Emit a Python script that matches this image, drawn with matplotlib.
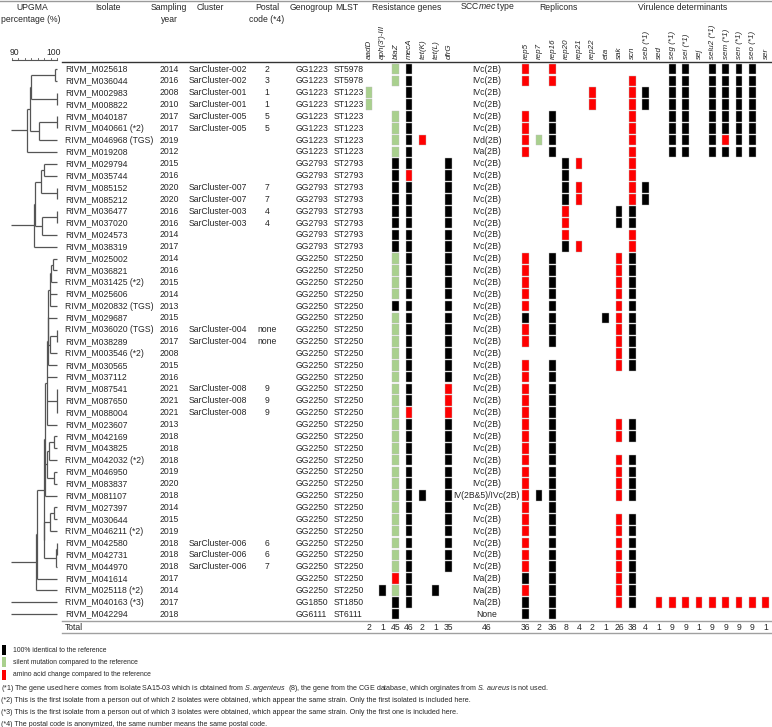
import matplotlib
matplotlib.use("Agg")
import matplotlib.pyplot as plt
from matplotlib import font_manager
from matplotlib.patches import Rectangle
import numpy as np

names = {f.name for f in font_manager.fontManager.ttflist}
fam = "Liberation Sans Narrow" if "Liberation Sans Narrow" in names else "Liberation Sans"
plt.rcParams["font.family"] = [fam, "DejaVu Sans"]
plt.rcParams["mathtext.fontset"] = "custom"
plt.rcParams["mathtext.rm"] = fam
plt.rcParams["mathtext.it"] = fam + ":italic"

# ---- table data ----
isolates = ["RIVM_M025618", "RIVM_M036044", "RIVM_M002983", "RIVM_M008822", "RIVM_M040187",
            "RIVM_M040661 (*2)", "RIVM_M046968 (TGS)", "RIVM_M019208", "RIVM_M029794", "RIVM_M035744",
            "RIVM_M085152", "RIVM_M085212", "RIVM_M036477", "RIVM_M037020", "RIVM_M024573",
            "RIVM_M038319", "RIVM_M025002", "RIVM_M036821", "RIVM_M031425 (*2)", "RIVM_M025606",
            "RIVM_M020832 (TGS)", "RIVM_M029687", "RIVM_M036020 (TGS)", "RIVM_M038289", "RIVM_M003546 (*2)",
            "RIVM_M030565", "RIVM_M037112", "RIVM_M087541", "RIVM_M087650", "RIVM_M088004",
            "RIVM_M023607", "RIVM_M042169", "RIVM_M043825", "RIVM_M042032 (*2)", "RIVM_M046950",
            "RIVM_M083837", "RIVM_M081107", "RIVM_M027397", "RIVM_M030644", "RIVM_M046211 (*2)",
            "RIVM_M042580", "RIVM_M042731", "RIVM_M044970", "RIVM_M041614", "RIVM_M025118 (*2)",
            "RIVM_M040163 (*3)", "RIVM_M042294"]
years = [2014, 2016, 2008, 2010, 2017, 2017, 2019, 2012, 2015, 2016, 2020, 2020, 2016, 2016, 2014, 2017,
         2014, 2016, 2015, 2014, 2013, 2015, 2016, 2017, 2008, 2015, 2016, 2021, 2021, 2021, 2013, 2018,
         2018, 2018, 2019, 2020, 2018, 2014, 2015, 2019, 2018, 2018, 2018, 2017, 2014, 2017, 2018]
clusters = ["SarCluster-002", "SarCluster-002", "SarCluster-001", "SarCluster-001", "SarCluster-005",
            "SarCluster-005", "", "", "", "", "SarCluster-007", "SarCluster-007", "SarCluster-003",
            "SarCluster-003", "", "", "", "", "", "", "", "", "SarCluster-004", "SarCluster-004", "",
            "", "", "SarCluster-008", "SarCluster-008", "SarCluster-008", "", "", "", "", "", "", "",
            "", "", "", "SarCluster-006", "SarCluster-006", "SarCluster-006", "", "", "", ""]
postal = ["2", "3", "1", "1", "5", "5", "", "", "", "", "7", "7", "4", "4", "", "", "", "", "", "", "",
          "", "none", "none", "", "", "", "9", "9", "9", "", "", "", "", "", "", "", "", "", "", "6",
          "6", "7", "", "", "", ""]
genogroup = ["GG1223"] * 8 + ["GG2793"] * 8 + ["GG2250"] * 29 + ["GG1850", "GG6111"]
mlst = ["ST5978"] * 2 + ["ST1223"] * 6 + ["ST2793"] * 8 + ["ST2250"] * 29 + ["ST1850", "ST6111"]
sccmec = (["IVc(2B)"] * 6 + ["IVd(2B)", "IVa(2B)"] + ["IVc(2B)"] * 28 + ["IV(2B&5)/IVc(2B)"]
          + ["IVc(2B)"] * 6 + ["IVa(2B)"] * 3 + ["None"])

res_genes = ["aadD", "aph(3')-III", "blaZ", "mecA", "tet(K)", "tet(L)", "dfrG"]
rep_genes = ["rep5", "rep7", "rep16", "rep20", "rep21", "rep22"]
vir_genes = ["eta", "sak", "scn", "seb (*1)", "sed", "seg (*1)", "sei (*1)", "sej", "selu2 (*1)",
             "sem (*1)", "sen (*1)", "seo (*1)", "ser"]

# B = identical, G = silent mutation, R = amino acid change, . = absent
res_calls = ["..GB...", "..GB...", "G..B...", "G..B...", "..GB...", "..GB...", "..GBR..", "..GB...",
             "..BB..B", "..BR..B", "..BB..B", "..BB..B", "..BB..B", "..BB..B", "..BB..B", "..BB..B",
             "..GB..B", "..GB..B", "..GB..B", "..GB..B", "..BB..B", "..GB..B", "..GB..B", "..GB..B",
             "..GB..B", "..GB..B", "..GB..B", "..GB..R", "..GB..R", "..GR..R", "..GB..B", "..GB..B",
             "..GB..B", "..GB..B", "..GB..B", "..GB..B", "..GBB.B", "..GB..B", "..GB..B", "..GB..B",
             "..GB..B", "..GB..B", "..GB..B", "..RB...", ".BGB.B.", "..BB...", "..B...."]
rep_calls = ["R.R...", "R.R...", ".....R", ".....R", "R.B...", "R.B...", "RGB...", "R.B...",
             "...BR.", "...B..", "...BR.", "...BR.", "...R..", "...R..", "...R..", "...BR.",
             "R.B...", "R.B...", "R.B...", "R.B...", "R.B...", "B.B...", "R.B...", "R.B...",
             "......", "R.B...", "R.B...", "R.B...", "R.B...", "R.B...", "R.B...", "R.B...",
             "R.B...", "R.B...", "R.B...", "R.B...", "RBB...", "R.B...", "R.B...", "R.B...",
             "R.B...", "R.B...", "R.B...", "B.B...", "R.B...", "B.B...", "B.B..."]
vir_calls = [".....BB.BBBB.", "..R..BB.BBBB.", "..RB.BB.BBBB.", "..RB.BB.BBBB.", "..R..BB.BBBB.",
             "..R..BB.BBBB.", "..R..BB.BRBB.", "..R..BB.BBBB.", "..R..........", "..R..........",
             "..RB.........", "..RB.........", ".BB..........", ".BB..........", "..R..........",
             "..R..........", ".RB..........", ".RB..........", ".RB..........", ".RB..........",
             ".RB..........", "BRB..........", ".RB..........", ".RB..........", ".RB..........",
             ".RB..........", ".............", ".............", ".............", ".............",
             ".RB..........", ".RB..........", ".............", ".RB..........", ".RB..........",
             ".RB..........", ".RB..........", ".............", ".RB..........", ".RB..........",
             ".RB..........", ".RB..........", ".RB..........", ".RB..........", ".RB..........",
             ".RB.RRRRRRRRR", "............."]

res_totals = [2, 1, 45, 46, 2, 1, 35]
scc_total = 46
rep_totals = [36, 2, 36, 8, 4, 2]
vir_totals = [1, 26, 38, 4, 1, 9, 9, 1, 9, 9, 9, 9, 1]

# UPGMA merges: (node, children, similarity %); ints are table rows
merges = [
    ("a1", [0, 1], 99.6), ("a2", [2, 3], 99.9), ("a3", ["a1", "a2"], 94.2), ("a4", [4, 5], 99.9),
    ("a5", ["a4", 6], 95.9), ("a6", ["a3", "a5"], 93.9), ("a7", ["a6", 7], 93.3),
    ("b1", [8, 9], 97.0), ("b2", [10, 11], 99.9), ("b3", ["b1", "b2"], 96.4), ("b4", [12, 13], 99.9),
    ("b5", ["b4", 14], 96.6), ("b6", ["b3", "b5"], 95.1), ("b7", ["b6", 15], 94.9),
    ("c1", [16, 17], 99.2), ("c2", ["c1", 18], 98.6), ("c3", ["c2", 19, 20], 98.35),
    ("c4", [22, 23], 99.9), ("c5", ["c4", 24], 98.4), ("c6", ["c3", 21, "c5"], 98.1),
    ("c7", ["c6", 25], 97.9), ("c8", [27, 28, 29], 99.9), ("c9", ["c7", 26, "c8", 30], 97.7),
    ("c10", [31, 32], 99.3), ("c11", ["c10", 33], 98.2), ("c12", [34, 35], 99.3),
    ("c13", ["c11", "c12"], 97.7), ("c14", ["c9", "c13", 36], 97.4), ("c15", [37, 38], 99.3),
    ("c16", ["c15", 39], 98.4), ("c17", [40, 41], 99.95), ("c18", ["c17", 42], 99.8),
    ("c19", ["c16", "c18"], 97.2), ("c20", ["c14", "c19"], 97.0), ("c21", ["c20", 43], 95.6),
    ("c22", ["c21", 44], 95.3),
]
roots = ["a7", "b7", "c22", 45, 46]

# ---- layout (pixels on x, rows on y) ----
W, H = 772, 727
row0, dy = 69.0, 11.85
ylim = ((H - row0) / dy, -row0 / dy)
def py(p):
    return (p - row0) / dy

ink = "#262626"
colors = {"B": "#000000", "G": "#a9d08e", "R": "#ff0000"}
fs = 6.2

fig = plt.figure(figsize=(W / 100, H / 100), dpi=100)
ax = fig.add_axes([0, 0, 1, 1])
ax.set_xlim(0, W)
ax.set_ylim(*ylim)
ax.axis("off")

res_x = 369 + 13.3 * np.arange(len(res_genes))
rv_x = 525.7 + 13.33 * np.arange(len(rep_genes) + len(vir_genes))
rep_x = rv_x[:len(rep_genes)]
vir_x = rv_x[len(rep_genes):]
scc_x = 487

# headers
hy1, hy2 = py(7), py(19)
for txt, x in [("UPGMA", 32), ("Isolate", 108), ("Sampling", 169), ("Cluster", 210), ("Postal", 267),
               ("Genogroup", 311), ("MLST", 347), ("Resistance genes", 407),
               ("SCC$\\mathit{mec}$ type", 487), ("Replicons", 558), ("Virulence determinants", 683)]:
    ax.text(x, hy1, txt, ha="center", va="center", fontsize=fs, color=ink)
for txt, x in [("percentage (%)", 31), ("year", 169), ("code (*4)", 267)]:
    ax.text(x, hy2, txt, ha="center", va="center", fontsize=fs, color=ink)

for genes, xs in [(res_genes, res_x), (rep_genes, rep_x), (vir_genes, vir_x)]:
    for g, x in zip(genes, xs):
        ax.text(x + 0.5, py(58.5), g, rotation=90, ha="center", va="bottom", fontsize=5.8,
                style="italic", color=ink)

# lines
ax.plot([0, W], [py(1), py(1)], color="#9a9a9a", lw=1)
ax.plot([62, W], [py(62), py(62)], color="#333333", lw=1)
ax.plot([62, W], [py(621), py(621)], color="#a0a0a0", lw=1)
ax.plot([62, W], [py(633), py(633)], color="#a0a0a0", lw=1)

# rows
for i in range(len(isolates)):
    ax.text(65, i, isolates[i], ha="left", va="center", fontsize=fs, color=ink)
    ax.text(169, i, str(years[i]), ha="center", va="center", fontsize=fs, color=ink)
    ax.text(189, i, clusters[i], ha="left", va="center", fontsize=fs, color=ink)
    ax.text(267, i, postal[i], ha="center", va="center", fontsize=fs, color=ink)
    ax.text(296, i, genogroup[i], ha="left", va="center", fontsize=fs, color=ink)
    ax.text(334, i, mlst[i], ha="left", va="center", fontsize=fs, color=ink)
    ax.text(scc_x, i, sccmec[i], ha="center", va="center", fontsize=fs, color=ink)
    for calls, xs in [(res_calls, res_x), (rep_calls, rep_x), (vir_calls, vir_x)]:
        for c, x in zip(calls[i], xs):
            if c in colors:
                ax.add_patch(Rectangle((x - 3.4, i - 0.45), 6.8, 0.9, facecolor=colors[c],
                                       edgecolor="#bdbdbd", lw=0.3))

# totals
ty = py(627)
ax.text(65, ty, "Total", ha="left", va="center", fontsize=fs, color=ink)
for tots, xs in [(res_totals, res_x), (rep_totals, rep_x), (vir_totals, vir_x)]:
    for t, x in zip(tots, xs):
        ax.text(x, ty, str(t), ha="center", va="center", fontsize=fs, color=ink)
ax.text(scc_x, ty, str(scc_total), ha="center", va="center", fontsize=fs, color=ink)

# legend and footnotes
legend_items = [("B", "100% identical to the reference"),
                ("G", "silent mutation compared to the reference"),
                ("R", "amino acid change compared to the reference")]
for k, (c, txt) in enumerate(legend_items):
    yy = py(650 + 12.4 * k)
    ax.add_patch(Rectangle((1.5, yy - 0.42), 4.5, 0.84, facecolor=colors[c], edgecolor="none"))
    ax.text(13, yy, txt, ha="left", va="center", fontsize=4.9, color=ink)
notes = ["(*1) The gene used here comes from isolate SA15-03 which is obtained from $\\mathit{S.argenteus}$  (8), "
         "the gene from the CGE database, which orginates from $\\mathit{S.\\ aureus}$ is not used.",
         "(*2) This is the first isolate from a person out of which 2 isolates were obtained, which appear the "
         "same strain. Only the first isolated is included here.",
         "(*3) This is the first isolate from a person out of which 3 isolates were obtained, which appear the "
         "same strain. Only the first one is included here.",
         "(*4) The postal code is anonymized, the same number means the same postal code."]
for k, txt in enumerate(notes):
    ax.text(1, py(688 + 12 * k), txt, ha="left", va="center", fontsize=5.15, color=ink)

# ---- dendrogram ----
dax = fig.add_axes([0, 0, 62 / W, 1])
dax.set_xlim(87.333, 101.111)
dax.set_ylim(*ylim)
dax.axis("off")
lc = "#555555"
node = {n: (ch, h) for n, ch, h in merges}

def draw(n):
    if isinstance(n, int):
        return n, 100.0
    ch, h = node[n]
    ys = []
    for c in ch:
        yc, hc = draw(c)
        dax.plot([hc, h], [yc, yc], color=lc, lw=0.9, solid_capstyle="butt")
        ys.append(yc)
    dax.plot([h, h], [min(ys), max(ys)], color=lc, lw=0.9, solid_capstyle="butt")
    return (min(ys) + max(ys)) / 2, h

for r in roots:
    yr, hr = draw(r)
    dax.plot([89.8, hr], [yr, yr], color=lc, lw=0.9, solid_capstyle="butt")

# scale bar
sy = py(60)
dax.plot([90, 100], [sy, sy], color=lc, lw=0.8)
for t in np.linspace(90, 100, 8):
    dax.plot([t, t], [sy, sy - 0.2], color=lc, lw=0.6)
dax.text(90.6, py(52), "90", ha="center", va="center", fontsize=fs, color=ink)
dax.text(99.2, py(52), "100", ha="center", va="center", fontsize=fs, color=ink)

fig.savefig("out.png", dpi=100)
